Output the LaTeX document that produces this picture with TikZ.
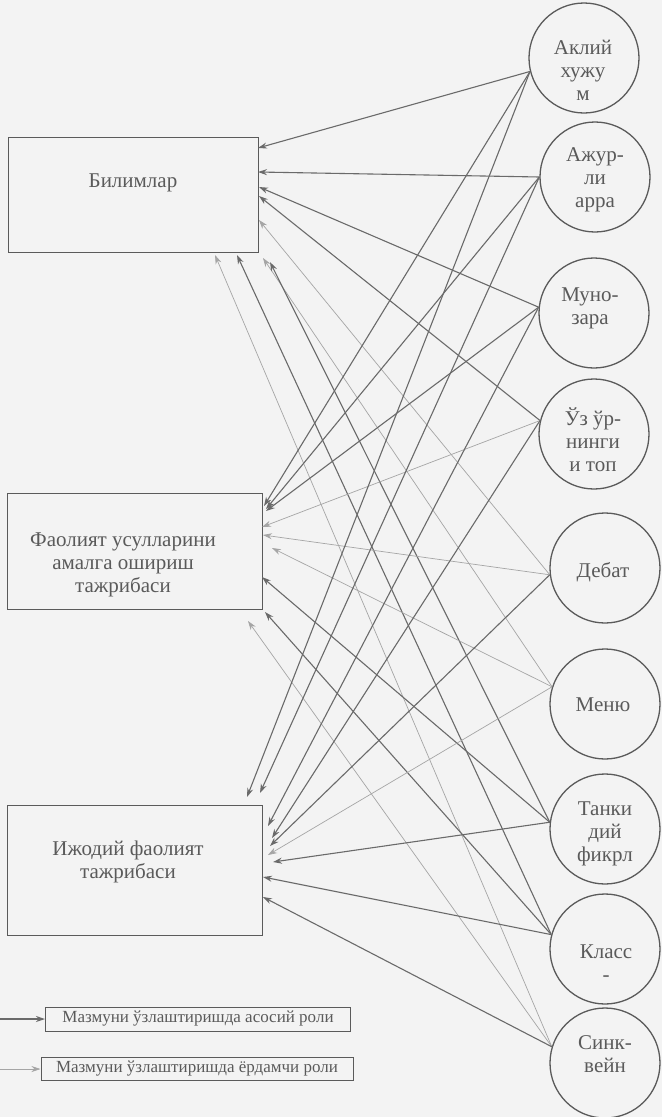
\documentclass[tikz,border=0pt]{standalone}
\usepackage{fontspec}
\setmainfont{Liberation Serif}
\usetikzlibrary{arrows.meta}
\definecolor{bg}{HTML}{F3F3F3}
\definecolor{ink}{HTML}{5A5A5A}
\definecolor{mainline}{HTML}{6A6A6A}
\definecolor{auxline}{HTML}{A5A5A5}
\begin{document}
\begin{tikzpicture}[x=1pt,y=-1pt,
  box/.style={draw=ink, line width=1pt, inner sep=0pt},
  method/.style={circle, draw=ink, line width=1.3pt, minimum size=110pt, inner sep=0pt},
  lbl/.style={text=ink, font=\fontsize{21}{23}\selectfont, align=center},
  leglbl/.style={text=ink, font=\fontsize{17}{19}\selectfont},
  mainarr/.style={draw=mainline, line width=1.1pt, -{Stealth[length=9pt,width=6pt]}},
  auxarr/.style={draw=auxline, line width=0.7pt, -{Stealth[length=9pt,width=6pt]}},
]
\fill[bg] (0,0) rectangle (662,1117);
\useasboundingbox (0,0) rectangle (662,1117);

% outcome boxes
\node[box, minimum width=250pt, minimum height=115pt] (bil) at (133,194.5) {};
\node[box, minimum width=255pt, minimum height=116pt] (fao) at (134.5,551) {};
\node[box, minimum width=255pt, minimum height=130pt] (ijo) at (134.5,870) {};
\node[lbl] (tbil) at (133,183) {Билимлар};
\node[lbl] (tfao) at (123,565) {Фаолият усулларини\\амалга ошириш\\тажрибаси};
\node[lbl] (tijo) at (128,862) {Ижодий фаолият\\тажрибаси};

% methods
\node[method] (c1) at (584,58) {};
\node[method] (c2) at (595,177) {};
\node[method] (c3) at (594,313) {};
\node[method] (c4) at (594,434) {};
\node[method] (c5) at (605,568) {};
\node[method] (c6) at (605,704) {};
\node[method] (c7) at (605,829) {};
\node[method] (c8) at (605,949) {};
\node[method] (c9) at (605,1063) {};
\node[lbl] (t1) at (583,70) {Аклий\\хужу\\м};
\node[lbl] (t2) at (595,180) {Ажур-\\ли\\арра};
\node[lbl] (t3) at (590,308) {Муно-\\зара};
\node[lbl] (t4) at (593,440) {Ўз ўр-\\нинги\\и топ};
\node[lbl] (t5) at (603,572) {Дебат};
\node[lbl] (t6) at (603,705) {Меню};
\node[lbl] (t7) at (605,834) {Танки\\дий\\фикрл};
\node[lbl] (t8) at (606,963) {Класс\\-};
\node[lbl] (t9) at (605,1054) {Синк-\\вейн};

% fan points on circles
\coordinate (f1) at (c1.194);
\coordinate (f2) at (c2.180);
\coordinate (f3) at (c3.174);
\coordinate (f4) at (c4.166);
\coordinate (f5) at (c5.187);
\coordinate (f6) at (c6.162);
\coordinate (f7) at (c7.173);
\coordinate (f8) at (c8.165);
\coordinate (f9) at (c9.163);

% arrival points on Bilimlar
\coordinate (b1) at (258,148);
\coordinate (b2) at (258,172);
\coordinate (b3) at (259,187);
\coordinate (b4) at (259,196);
\coordinate (b5) at (259,220);
\coordinate (b6) at (263,258);
\coordinate (b7) at (270,262);
\coordinate (b8) at (237,255);
\coordinate (b9) at (215,255);
% arrival points on Faoliyat
\coordinate (a1) at (264,506);
\coordinate (a2) at (266,509);
\coordinate (a3) at (266,511);
\coordinate (a4) at (262,527);
\coordinate (a5) at (263,535);
\coordinate (a6) at (272,548);
\coordinate (a7) at (262,577);
\coordinate (a8) at (265,612);
\coordinate (a9) at (248,621);
% arrival points on Ijodiy
\coordinate (i1) at (247,797);
\coordinate (i2) at (260,793);
\coordinate (i3) at (268,826);
\coordinate (i4) at (272,838);
\coordinate (i5) at (270,846);
\coordinate (i6) at (268,855);
\coordinate (i7) at (273,862);
\coordinate (i8) at (263,877);
\coordinate (i9) at (263,897);

% connectors to Bilimlar
\draw[mainarr] (f1) -- (b1);
\draw[mainarr] (f2) -- (b2);
\draw[mainarr] (f3) -- (b3);
\draw[mainarr] (f4) -- (b4);
\draw[auxarr]  (f5) -- (b5);
\draw[auxarr]  (f6) -- (b6);
\draw[mainarr] (f7) -- (b7);
\draw[mainarr] (f8) -- (b8);
\draw[auxarr]  (f9) -- (b9);
% connectors to Faoliyat
\draw[mainarr] (f1) -- (a1);
\draw[mainarr] (f2) -- (a2);
\draw[mainarr] (f3) -- (a3);
\draw[auxarr]  (f4) -- (a4);
\draw[auxarr]  (f5) -- (a5);
\draw[auxarr]  (f6) -- (a6);
\draw[mainarr] (f7) -- (a7);
\draw[mainarr] (f8) -- (a8);
\draw[auxarr]  (f9) -- (a9);
% connectors to Ijodiy
\draw[mainarr] (f1) -- (i1);
\draw[mainarr] (f2) -- (i2);
\draw[mainarr] (f3) -- (i3);
\draw[mainarr] (f4) -- (i4);
\draw[mainarr] (f5) -- (i5);
\draw[auxarr]  (f6) -- (i6);
\draw[mainarr] (f7) -- (i7);
\draw[mainarr] (f8) -- (i8);
\draw[mainarr] (f9) -- (i9);

% legend
\node[box, minimum width=305pt, minimum height=24pt, leglbl] (leg1) at (198,1019) {Мазмуни ўзлаштиришда асосий роли};
\node[box, minimum width=312pt, minimum height=23pt, leglbl] (leg2) at (197,1069) {Мазмуни ўзлаштиришда ёрдамчи роли};
\coordinate (la1) at (0,1019);
\coordinate (la2) at (0,1069);
\draw[mainarr] (la1) -- (leg1.west);
\draw[auxarr] (la2) -- (leg2.west);
\end{tikzpicture}
\end{document}
